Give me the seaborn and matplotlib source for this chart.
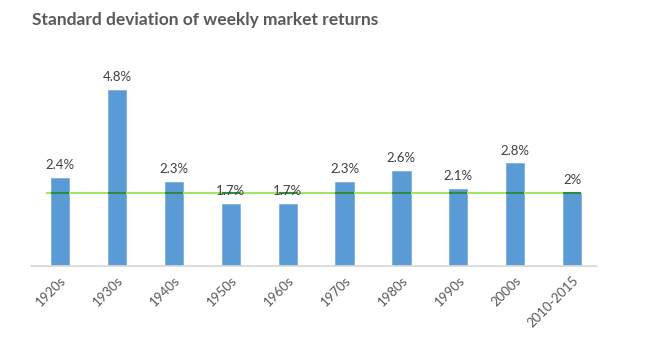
import matplotlib
matplotlib.use("Agg")
import matplotlib.pyplot as plt
import seaborn as sns
import pandas as pd

# Decades and the standard deviation of weekly returns (%)
decades = ["1920s", "1930s", "1940s", "1950s", "1960s",
           "1970s", "1980s", "1990s", "2000s", "2010-2015"]
std_dev = [2.4, 4.8, 2.3, 1.7, 1.7, 2.3, 2.6, 2.1, 2.8, 2.0]
value_labels = ["2.4%", "4.8%", "2.3%", "1.7%", "1.7%",
                "2.3%", "2.6%", "2.1%", "2.8%", "2%"]
reference_level = 2.0  # current-period level drawn across the chart

df = pd.DataFrame({"decade": decades, "std": std_dev})

sns.set_theme(style="white")
plt.rcParams["font.family"] = ["Lato", "DejaVu Sans"]

fig = plt.figure(figsize=(6.48, 3.44), dpi=100)
ax = fig.add_axes([31 / 648, 1 - 266 / 344, (596 - 31) / 648, (266 - 46) / 344])

sns.barplot(data=df, x="decade", y="std", color="#5b9bd5", saturation=1,
            width=0.32, ax=ax, edgecolor="#7fb0e0", linewidth=0.6, zorder=2)

ax.set_xlim(-0.51, 9.42)
ax.set_ylim(0, 6)

# Horizontal reference line: pale over the background, darker across bars
ax.plot([-0.25, 9.16], [reference_level] * 2, color="#a2e46c", lw=1.5, zorder=3,
        solid_capstyle="butt")
for patch in ax.patches:
    x0 = patch.get_x()
    ax.plot([x0, x0 + patch.get_width()], [reference_level] * 2,
            color="#2f8a45", lw=1.5, zorder=4, solid_capstyle="butt")

for i, (v, lab) in enumerate(zip(std_dev, value_labels)):
    ax.text(i, v + 0.18, lab, ha="center", va="bottom", fontsize=9.5,
            color="#404040", zorder=5)

for s in ["top", "right", "left"]:
    ax.spines[s].set_visible(False)
ax.spines["bottom"].set_color("#d9d9d9")
ax.spines["bottom"].set_linewidth(1.3)
ax.set_yticks([])
ax.set_xlabel("")
ax.set_ylabel("")
ax.tick_params(axis="x", length=0, pad=6)
ax.set_xticks(range(len(decades)))
ax.set_xticklabels(decades, rotation=45, ha="right", rotation_mode="anchor",
                   fontsize=9.5, color="#595959")

fig.text(32 / 648, 1 - 20 / 344, "Standard deviation of weekly market returns",
         fontsize=12.5, fontweight="bold", color="#595959", ha="left", va="center")

fig.savefig("out.png", dpi=100, facecolor="white")
